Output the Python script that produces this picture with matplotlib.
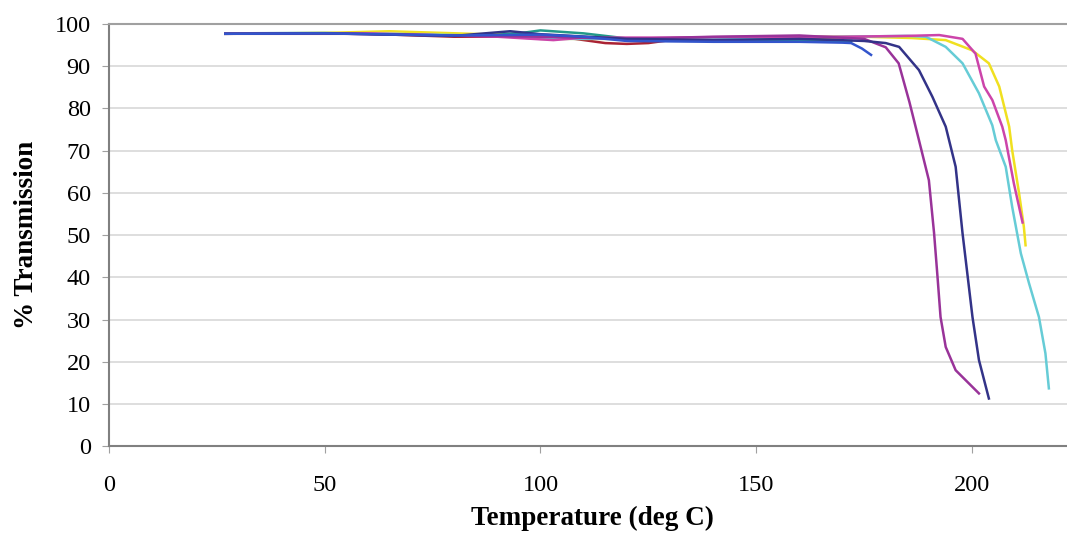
import matplotlib.pyplot as plt

plt.rcParams['font.family'] = ['Liberation Serif', 'DejaVu Serif']

# series data (temperature, % transmission)
purple_x = [27, 50, 80, 100, 120, 140, 160, 175, 180, 183, 185.5, 187.7, 190, 191.2, 192, 192.7, 193.9, 196.2, 201.6]
purple_y = [97.7, 97.8, 97.3, 97.0, 96.5, 97.0, 97.3, 96.5, 94.5, 90.7, 81.5, 72.5, 63, 50.5, 40.1, 30.6, 23.5, 18, 12.5]

navy_x = [27, 50, 80, 93, 100, 120, 140, 160, 175, 180, 183.1, 187.7, 190.8, 193.9, 196.2, 197.8, 199, 200.1, 201.6, 203.9]
navy_y = [97.7, 97.8, 97.2, 98.3, 97.6, 96.5, 96.2, 96.5, 96.0, 95.5, 94.6, 89.1, 82.8, 75.7, 66.2, 50.4, 40.1, 30.6, 20.4, 11.3]

cyan_x = [27, 60, 90, 100, 110, 130, 150, 170, 185, 189.3, 193.9, 197.8, 201.6, 204.7, 205.5, 207.8, 209.3, 211.3, 213.2, 215.5, 217, 217.8]
cyan_y = [97.7, 97.8, 97.2, 96.5, 96.5, 96.5, 96.8, 97.0, 97.2, 97.0, 94.6, 90.7, 83.6, 76, 72.5, 66.2, 56.7, 45.7, 38.6, 30.6, 22, 13.7]

magenta_x = [27, 60, 90, 103, 110, 130, 150, 170, 185, 192.4, 197.8, 200.8, 202.8, 204.7, 207, 207.8, 209.7, 211.7]
magenta_y = [97.7, 97.8, 97.0, 96.2, 96.8, 96.8, 97.0, 97.0, 97.2, 97.4, 96.5, 93, 85.2, 82, 75.7, 72.5, 62.2, 53]

yellow_x = [27, 50, 65, 90, 100, 120, 140, 160, 175, 186, 193.9, 200, 203.9, 206.3, 208.6, 209.3, 210.9, 212, 212.4]
yellow_y = [97.7, 97.9, 98.3, 97.5, 96.5, 96.5, 96.8, 97.0, 97.0, 96.7, 96.2, 93.8, 90.7, 85.2, 75.7, 70.1, 59.9, 52, 47.6]

blue_x = [27, 50, 80, 100, 110, 120, 140, 160, 170, 172, 174.5, 176.6]
blue_y = [97.7, 97.8, 97.3, 97.5, 97.0, 96.0, 95.8, 95.8, 95.6, 95.5, 94.2, 92.7]

red_x = [27, 60, 80, 100, 108, 115, 120, 125, 130, 150, 170]
red_y = [97.7, 97.7, 97.0, 97.0, 96.5, 95.5, 95.3, 95.5, 96.2, 96.5, 96.3]

teal_x = [27, 50, 80, 95, 100, 110, 120, 140, 160, 172]
teal_y = [97.8, 97.9, 97.3, 97.8, 98.5, 97.8, 96.6, 96.2, 96.0, 96.0]

fig = plt.figure(figsize=(10.67, 5.35), dpi=100)
ax = fig.add_axes([0.102, 0.166, 0.898, 0.789])

lw = 1.8
ax.plot(red_x, red_y, color='#aa2233', lw=lw)
ax.plot(teal_x, teal_y, color='#229988', lw=lw)
ax.plot(yellow_x, yellow_y, color='#f0e020', lw=lw)
ax.plot(cyan_x, cyan_y, color='#66ccd6', lw=lw)
ax.plot(magenta_x, magenta_y, color='#cc44aa', lw=lw)
ax.plot(purple_x, purple_y, color='#993399', lw=lw)
ax.plot(navy_x, navy_y, color='#333388', lw=lw)
ax.plot(blue_x, blue_y, color='#3355cc', lw=lw)

ax.set_xlim(0, 222)
ax.set_ylim(0, 100)
ax.set_xticks([0, 50, 100, 150, 200])
ax.set_yticks(range(0, 101, 10))
ax.yaxis.grid(True, color='#d8d8d8', lw=1.2)
ax.set_axisbelow(True)

ax.spines['right'].set_visible(False)
ax.spines['top'].set_color('#a0a0a0')
ax.spines['top'].set_linewidth(1.5)
ax.spines['left'].set_color('#808080')
ax.spines['left'].set_linewidth(1.5)
ax.spines['bottom'].set_color('#808080')
ax.spines['bottom'].set_linewidth(1.5)

ax.tick_params(axis='x', direction='out', length=5, color='#a0a0a0', pad=16, labelsize=17.5)
ax.tick_params(axis='y', direction='out', length=5, color='#a0a0a0', pad=8, labelsize=17.5)

ax.set_xlabel('Temperature (deg C)', fontsize=19.5, fontweight='bold', va='top')
ax.set_ylabel('% Transmission', fontsize=19.5, fontweight='bold')
ax.xaxis.set_label_coords(0.505, -0.142)
ax.yaxis.set_label_coords(-0.073, 0.5)

fig.savefig('out.png', dpi=100)
